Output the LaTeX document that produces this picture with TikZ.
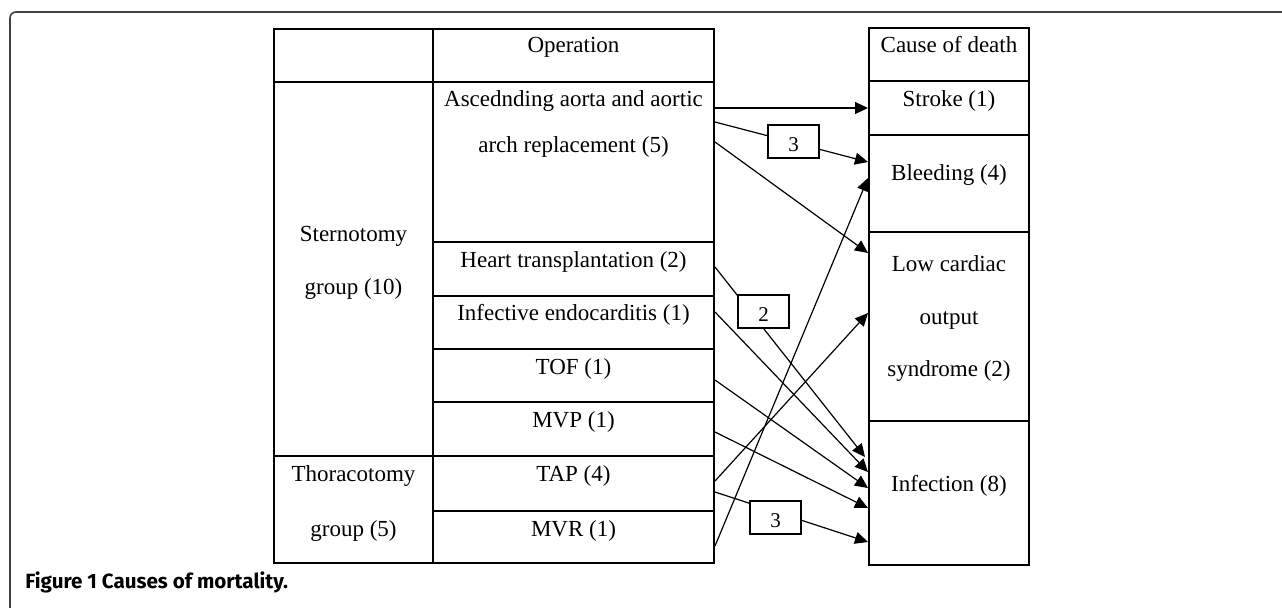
\documentclass[tikz,border=0pt]{standalone}
\usepackage{fontspec}
\setmainfont{Liberation Serif}
\newfontfamily\capfont{Fira Sans}
\usetikzlibrary{arrows.meta,fit}
\tikzset{
  cell/.style={draw, line width=0.6pt, inner sep=0pt},
  txt/.style={inner sep=0pt, font=\fontsize{11.5}{13}\selectfont, text height=10.5pt, text depth=1.5pt},
  arr/.style={line width=0.6pt, -{Triangle[length=6.5pt,width=6pt]}},
  numbox/.style={draw, line width=0.6pt, fill=white, inner sep=0pt, minimum width=25.5pt, minimum height=16.5pt,
     font=\fontsize{10.5}{12}\selectfont, text height=10pt, text depth=0pt},
  frame/.style={draw=black!75, line width=0.8pt, rounded corners=3pt}
}
\begin{document}
\begin{tikzpicture}[x=0.5pt,y=-0.5pt]
\useasboundingbox (0,0) rectangle (1282,607);
\draw[frame] (10,620) -- (10,12) -- (1295,12);
% left table
\node[cell, fit={(274,29)(433,82)}] (corner) {};
\node[cell, fit={(433,29)(714,82)}] (ophead) {};
\node[cell, fit={(274,82)(433,456)}] (stern) {};
\node[cell, fit={(274,456)(433,563)}] (thor) {};
\node[cell, fit={(433,82)(714,242)}] (asc) {};
\node[cell, fit={(433,242)(714,296)}] (heart) {};
\node[cell, fit={(433,296)(714,349)}] (infend) {};
\node[cell, fit={(433,349)(714,402)}] (tof) {};
\node[cell, fit={(433,402)(714,456)}] (mvp) {};
\node[cell, fit={(433,456)(714,511)}] (tap) {};
\node[cell, fit={(433,511)(714,563)}] (mvr) {};
% right table
\node[cell, fit={(869,28)(1029,81)}] (cause) {};
\node[cell, fit={(869,81)(1029,135)}] (stroke) {};
\node[cell, fit={(869,135)(1029,232)}] (bleed) {};
\node[cell, fit={(869,232)(1029,421)}] (low) {};
\node[cell, fit={(869,421)(1029,565)}] (infect) {};
% texts
\node[txt] (tOp) at (573.5,43) {Operation};
\node[txt] (tAsc1) at (573.5,97) {Ascednding aorta and aortic};
\node[txt] (tAsc2) at (573.5,143) {arch replacement (5)};
\node[txt] (tStern1) at (353.5,232) {Sternotomy};
\node[txt] (tStern2) at (353.5,285) {group (10)};
\node[txt] (tHeart) at (573.5,258) {Heart transplantation (2)};
\node[txt] (tInf) at (573.5,311) {Infective endocarditis (1)};
\node[txt] (tTOF) at (573.5,365) {TOF (1)};
\node[txt] (tMVP) at (573.5,418) {MVP (1)};
\node[txt] (tThor1) at (353.5,472) {Thoracotomy};
\node[txt] (tThor2) at (353.5,527) {group (5)};
\node[txt] (tTAP) at (573.5,472) {TAP (4)};
\node[txt] (tMVR) at (573.5,527) {MVR (1)};
\node[txt] (tCause) at (949,43) {Cause of death};
\node[txt] (tStroke) at (949,97) {Stroke (1)};
\node[txt] (tBleed) at (949,171) {Bleeding (4)};
\node[txt] (tLow1) at (949,262) {Low cardiac};
\node[txt] (tLow2) at (949,315) {output};
\node[txt] (tLow3) at (949,367) {syndrome (2)};
\node[txt] (tInfect) at (949,482) {Infection (8)};
% connector end points
\coordinate (s1) at (715,108);  \coordinate (e1) at (868,108);
\coordinate (s2) at (715,122);  \coordinate (e2) at (868,162);
\coordinate (s3) at (715,142);  \coordinate (e3) at (868,253);
\coordinate (s4) at (715,546);  \coordinate (e4) at (868,178);
\coordinate (s5) at (715,481);  \coordinate (e5) at (868,313);
\coordinate (s6) at (715,267);  \coordinate (e6) at (865,457);
\coordinate (s7) at (715,312);  \coordinate (e7) at (868,472);
\coordinate (s8) at (715,380);  \coordinate (e8) at (868,488);
\coordinate (s9) at (715,432);  \coordinate (e9) at (868,508);
\coordinate (s10) at (715,492); \coordinate (e10) at (868,542);
\draw[arr] (s1) -- (e1);
\draw[arr] (s2) -- (e2);
\draw[arr] (s3) -- (e3);
\draw[arr] (s4) -- (e4);
\draw[arr] (s5) -- (e5);
\draw[arr] (s6) -- (e6);
\draw[arr] (s7) -- (e7);
\draw[arr] (s8) -- (e8);
\draw[arr] (s9) -- (e9);
\draw[arr] (s10) -- (e10);
% number boxes
\node[numbox] (n3a) at (793.5,141.5) {3\hspace{6pt}};
\node[numbox] (n2) at (763.5,311.5) {2\hspace{6pt}};
\node[numbox] (n3b) at (775.5,517.5) {3\hspace{6pt}};
% caption
\node[inner sep=0pt, anchor=base west, font=\capfont\bfseries\fontsize{10.3}{12}\selectfont] (cap) at (25,588) {Figure 1 Causes of mortality.};
\end{tikzpicture}
\end{document}
